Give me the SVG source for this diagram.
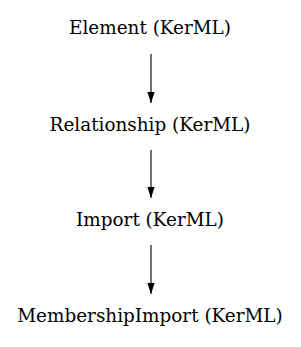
<svg xmlns="http://www.w3.org/2000/svg" width="301" height="347" viewBox="0 0 301 347">
<style>
.lbl{font-family:"DejaVu Serif","Liberation Serif",serif;font-size:18.4px;fill:#000;text-anchor:middle}
.edge{stroke:#000;stroke-width:1.1;fill:none}
</style>
<defs>
<marker id="ah" markerUnits="userSpaceOnUse" markerWidth="11" markerHeight="16" refX="15" refY="5" orient="auto" viewBox="0 0 15 10">
<path d="M0,0 L15,5 L0,10 Z" fill="#000"/>
</marker>
</defs>
<rect width="301" height="347" fill="#fff"/>
<g id="edges">
<line class="edge" x1="151" y1="54" x2="151" y2="103" marker-end="url(#ah)"/>
<line class="edge" x1="151" y1="150" x2="151" y2="198" marker-end="url(#ah)"/>
<line class="edge" x1="151" y1="245" x2="151" y2="294" marker-end="url(#ah)"/>
</g>
<g id="element"><text class="lbl" x="150" y="34">Element (KerML)</text></g>
<g id="relationship"><text class="lbl" x="150" y="130.5">Relationship (KerML)</text></g>
<g id="import"><text class="lbl" x="150" y="226">Import (KerML)</text></g>
<g id="membershipimport"><text class="lbl" x="150" y="321.5">MembershipImport (KerML)</text></g>
</svg>
